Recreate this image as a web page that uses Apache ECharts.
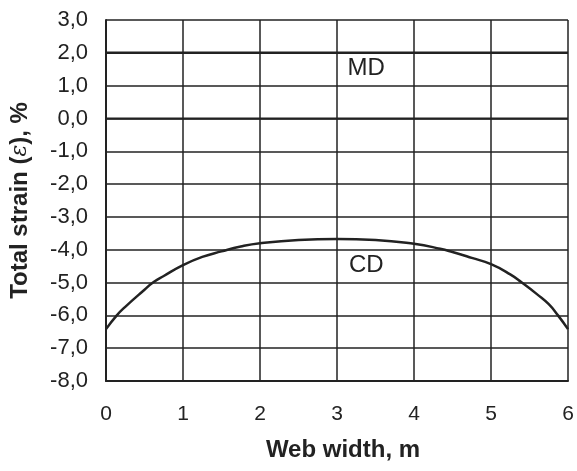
<!DOCTYPE html>
<html>
<head>
<meta charset="utf-8">
<script src="https://cdn.jsdelivr.net/npm/echarts@6/dist/echarts.min.js"></script>
<style>
  html, body { margin: 0; padding: 0; background: #fff; }
  #chart { width: 577px; height: 471px; }
</style>
</head>
<body>
<div id="chart"></div>
<script>
// web width positions (m) and total strain (%)
const cdX = [0, 0.14, 0.25, 0.5, 0.61, 0.75, 1, 1.25, 1.5, 1.75, 2, 2.5, 3, 3.5, 4, 4.34, 4.5, 4.75, 5, 5.25, 5.4, 5.6, 5.75, 5.87, 6];
const cdY = [-6.42, -6.0, -5.74, -5.22, -5.0, -4.8, -4.47, -4.22, -4.05, -3.9, -3.8, -3.7, -3.67, -3.7, -3.82, -3.97, -4.07, -4.25, -4.44, -4.75, -5.0, -5.36, -5.66, -6.0, -6.42];
const mdX = [0, 6];
const mdY = [2.0, 2.0];
const seriesLabels = ['MD', 'CD'];

const zip = (xs, ys) => xs.map((x, i) => [x, ys[i]]);

const chart = echarts.init(document.getElementById('chart'));
const font = 'Liberation Sans, Arial, Helvetica, sans-serif';

const option = {
  animation: false,
  grid: { left: 106, right: 9, top: 20, bottom: 90, outerBoundsMode: 'none', containLabel: false },
  xAxis: {
    type: 'value',
    min: 0, max: 6, interval: 1,
    name: 'Web width, m',
    nameLocation: 'middle',
    nameGap: 57,
    nameTextStyle: { fontFamily: font, fontSize: 24, fontWeight: 'bold', color: '#222', padding: [0, 0, 0, 12] },
    axisLine: { show: true, onZero: false, lineStyle: { color: '#222', width: 2 } },
    axisTick: { show: false },
    axisLabel: { fontFamily: font, fontSize: 21, color: '#222', margin: 23 },
    splitLine: { show: true, lineStyle: { color: '#222', width: 1.5 } }
  },
  yAxis: {
    type: 'value',
    min: -8, max: 3, interval: 1,
    name: '{b|Total strain (}{e|ε}{b|), %}',
    nameLocation: 'middle',
    nameGap: 74,
    nameTextStyle: {
      rich: {
        b: { fontFamily: font, fontSize: 24, fontWeight: 'bold', color: '#222' },
        e: { fontFamily: 'DejaVu Serif, serif', fontSize: 22, fontStyle: 'italic', color: '#222' }
      }
    },
    axisLine: { show: true, onZero: false, lineStyle: { color: '#222', width: 2 } },
    axisTick: { show: false },
    axisLabel: {
      fontFamily: font, fontSize: 22, color: '#222', margin: 18,
      formatter: v => v.toFixed(1).replace('.', ',')
    },
    splitLine: { show: true, lineStyle: { color: '#222', width: 1.5 } }
  },
  series: [
    {
      name: seriesLabels[0],
      type: 'line',
      data: zip(mdX, mdY),
      symbol: 'none',
      lineStyle: { color: '#222', width: 2.5 },
      markPoint: {
        symbolSize: 0,
        label: { show: true, formatter: seriesLabels[0], fontFamily: font, fontSize: 24, color: '#222' },
        data: [{ coord: [3.38, 1.54] }]
      }
    },
    {
      name: seriesLabels[1],
      type: 'line',
      data: zip(cdX, cdY),
      symbol: 'none',
      smooth: 0.5,
      lineStyle: { color: '#222', width: 2.5 },
      markPoint: {
        symbolSize: 0,
        label: { show: true, formatter: seriesLabels[1], fontFamily: font, fontSize: 24, color: '#222' },
        data: [{ coord: [3.38, -4.47] }]
      }
    },
    {
      // heavier zero line
      type: 'line',
      data: [[0, 0], [6, 0]],
      symbol: 'none',
      silent: true,
      lineStyle: { color: '#222', width: 2 }
    }
  ]
};
chart.setOption(option);
</script>
</body>
</html>
